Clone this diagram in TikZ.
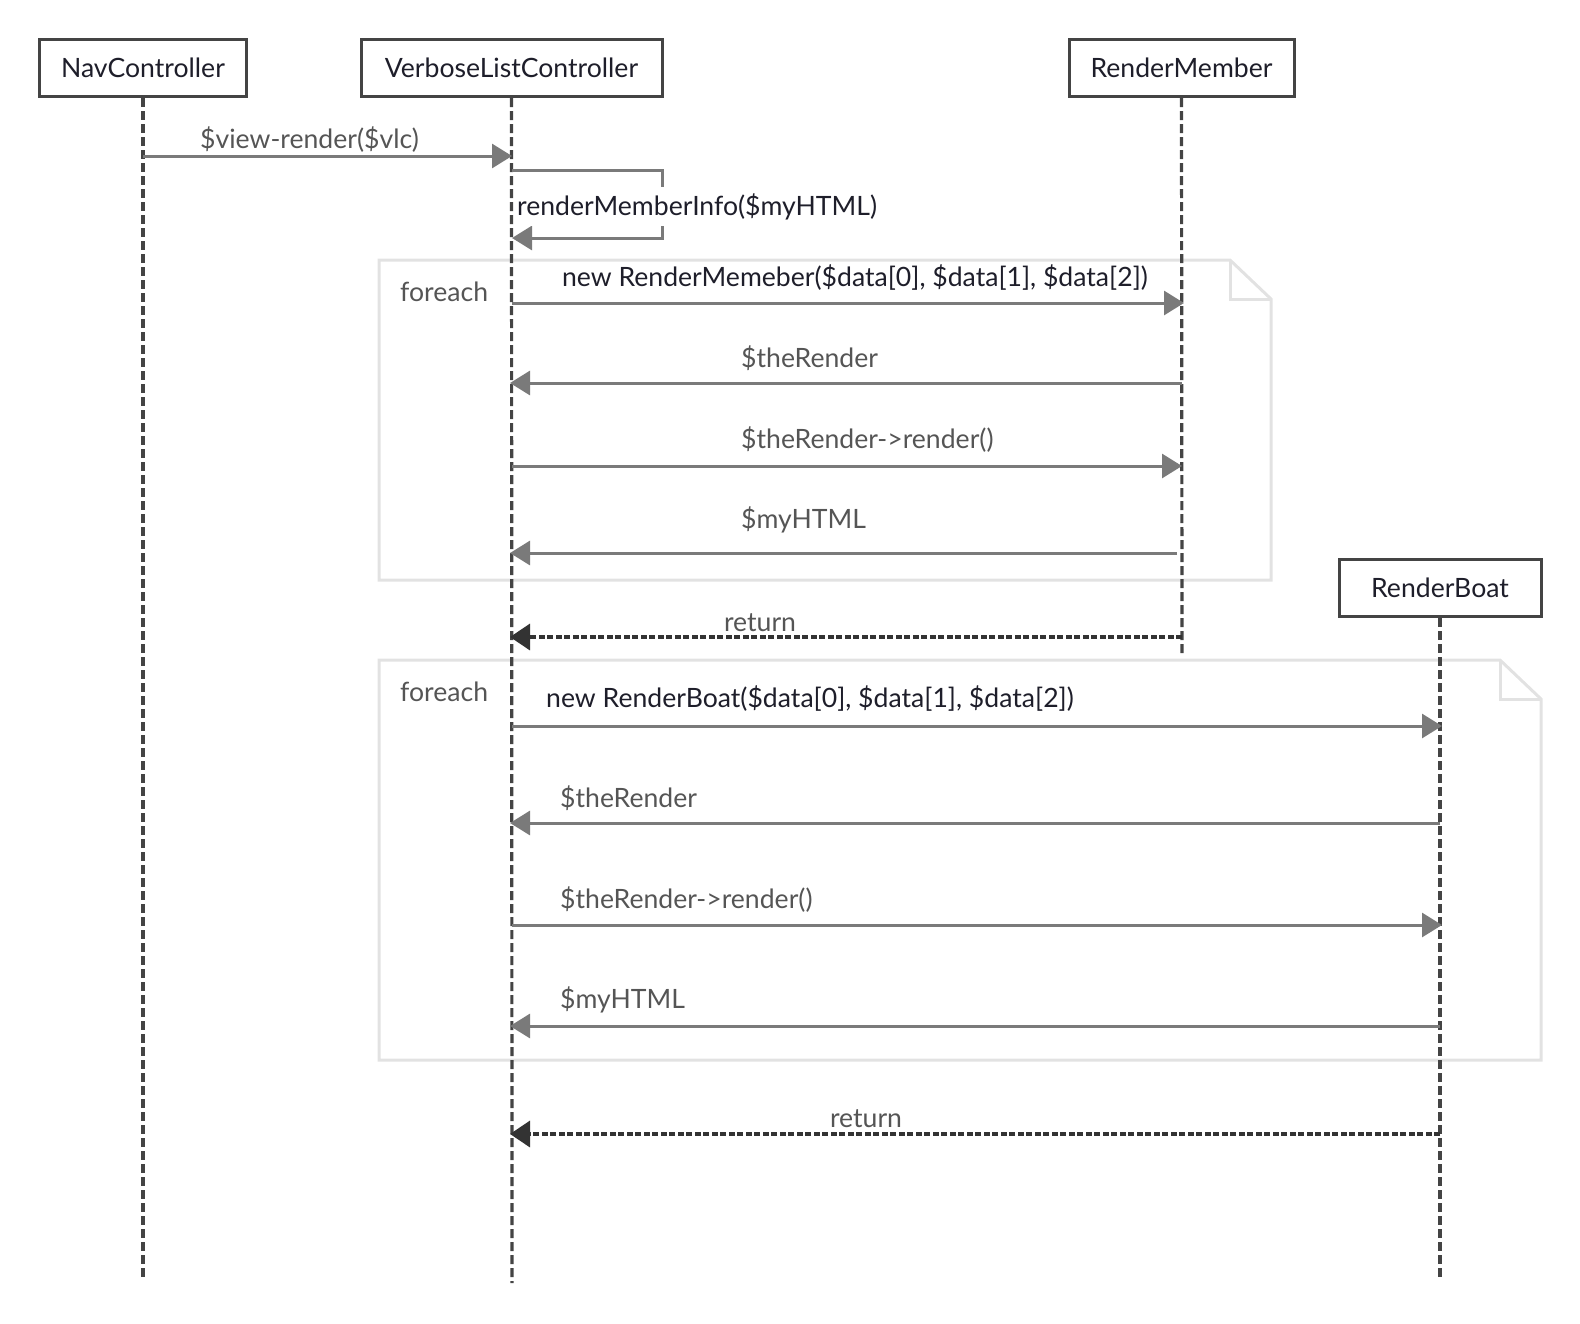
\documentclass[tikz,border=0pt]{standalone}
\usepackage{fontspec}
\setmainfont{Lato}
\usetikzlibrary{arrows.meta}
\definecolor{boxline}{HTML}{444444}
\definecolor{lifec}{HTML}{444444}
\definecolor{msgc}{HTML}{7A7A7A}
\definecolor{retc}{HTML}{333333}
\definecolor{framec}{HTML}{E2E2E2}
\definecolor{darktxt}{HTML}{1E1E2A}
\definecolor{graytxt}{HTML}{555555}
\tikzset{
  actor/.style={draw=boxline,line width=3pt,fill=white,minimum height=57pt,inner xsep=0pt,font=\fontsize{26.6}{30}\selectfont,text=darktxt},
  lifeline/.style={draw=lifec,line width=3.2pt,dash pattern=on 9pt off 4pt},
  msg/.style={draw=msgc,line width=3pt,-{Triangle[length=20pt,width=24pt]}},
  ret/.style={draw=retc,line width=3.4pt,dash pattern=on 6pt off 2.5pt,-{Triangle[length=20pt,width=26pt,fill=retc]}},
  frame/.style={draw=framec,line width=3pt},
  lbl/.style={font=\fontsize{26.6}{30}\selectfont,text=graytxt,inner sep=0pt},
  dlbl/.style={font=\fontsize{26.6}{30}\selectfont,text=darktxt,inner sep=0pt},
}
\begin{document}
\begin{tikzpicture}[x=1pt,y=-1pt]
\useasboundingbox (0,0) rectangle (1580,1323);
% frames
\draw[frame] (379,260) -- (1230,260) -- (1271,299) -- (1271,580) -- (379,580) -- cycle;
\draw[frame] (1230,260) -- (1230,299) -- (1271,299);
\draw[frame] (379,660) -- (1500,660) -- (1541,699) -- (1541,1060) -- (379,1060) -- cycle;
\draw[frame] (1500,660) -- (1500,699) -- (1541,699);
\node[lbl,anchor=base west] (f1) at (400,301) {foreach};
\node[lbl,anchor=base west] (f2) at (400,701) {foreach};
% actors
\node[actor,minimum width=207pt] (nav) at (143,68) {NavController};
\node[actor,minimum width=301pt] (vlc) at (511.5,68) {VerboseListController};
\node[actor,minimum width=225pt] (rm) at (1181.5,68) {RenderMember};
\node[actor,minimum width=202pt] (rb) at (1440,588) {RenderBoat};
% lifeline ends
\coordinate (navE) at (143,1280);
\coordinate (vlcE) at (512,1283);
\coordinate (rmE) at (1182,655);
\coordinate (rbE) at (1440,1280);
\draw[lifeline] (nav.south) -- (navE);
\draw[lifeline] (vlc.south) -- (vlcE);
\draw[lifeline] (rm.south) -- (rmE);
\draw[lifeline] (rb.south) -- (rbE);
% message points
\coordinate (a1) at (143,156); \coordinate (b1) at (512,156);
\coordinate (s1) at (512,170); \coordinate (s2) at (662,170); \coordinate (s3) at (662,238); \coordinate (s4) at (512,238);
\coordinate (a2) at (512,303); \coordinate (b2) at (1184,303);
\coordinate (a3) at (1182,383); \coordinate (b3) at (510,383);
\coordinate (a4) at (512,466); \coordinate (b4) at (1182,466);
\coordinate (a5) at (1177,553); \coordinate (b5) at (510,553);
\coordinate (a6) at (1182,637); \coordinate (b6) at (510,637);
\coordinate (a7) at (512,726); \coordinate (b7) at (1442,726);
\coordinate (a8) at (1440,823); \coordinate (b8) at (510,823);
\coordinate (a9) at (512,925); \coordinate (b9) at (1442,925);
\coordinate (a10) at (1440,1026); \coordinate (b10) at (510,1026);
\coordinate (a11) at (1440,1134); \coordinate (b11) at (510,1134);
% messages
\draw[msg] (a1) -- (b1);
\draw[msg] (s1) -- (s2) -- (s3) -- (s4);
\draw[msg] (a2) -- (b2);
\draw[msg] (a3) -- (b3);
\draw[msg] (a4) -- (b4);
\draw[msg] (a5) -- (b5);
\draw[ret] (a6) -- (b6);
\draw[msg] (a7) -- (b7);
\draw[msg] (a8) -- (b8);
\draw[msg] (a9) -- (b9);
\draw[msg] (a10) -- (b10);
\draw[ret] (a11) -- (b11);
% labels
\node[lbl,anchor=base west] (l1) at (200,148) {\$view-render(\$vlc)};
\node[dlbl,anchor=base west,fill=white,inner ysep=6pt] (l2) at (517,215) {renderMemberInfo(\$myHTML)};
\node[dlbl,anchor=base] (l3) at (855,286) {new RenderMemeber(\$data[0], \$data[1], \$data[2])};
\node[lbl,anchor=base west] (l4) at (741,367) {\$theRender};
\node[lbl,anchor=base west] (l5) at (741,448) {\$theRender->render()};
\node[lbl,anchor=base west] (l6) at (741,528) {\$myHTML};
\node[lbl,anchor=base] (l7) at (760,631) {return};
\node[dlbl,anchor=base west] (l8) at (546,707) {new RenderBoat(\$data[0], \$data[1], \$data[2])};
\node[lbl,anchor=base west] (l9) at (560,807) {\$theRender};
\node[lbl,anchor=base west] (l10) at (560,908) {\$theRender->render()};
\node[lbl,anchor=base west] (l11) at (560,1008) {\$myHTML};
\node[lbl,anchor=base] (l12) at (866,1127) {return};
\end{tikzpicture}
\end{document}
